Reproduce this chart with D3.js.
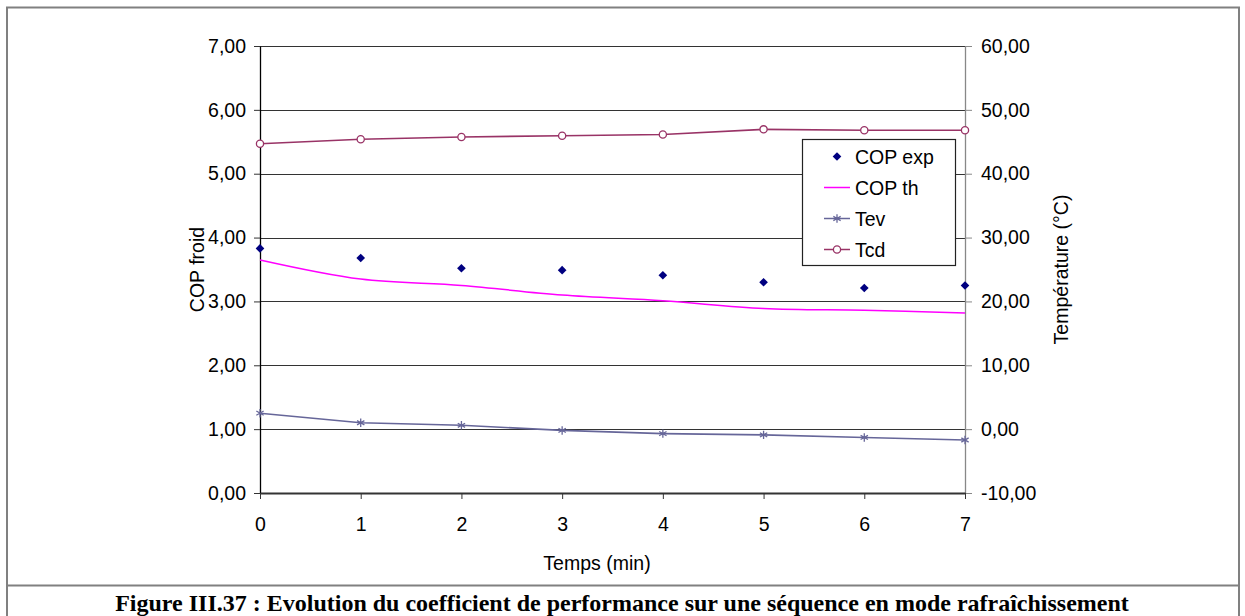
<!DOCTYPE html>
<html>
<head>
<meta charset="utf-8">
<script src="https://cdn.jsdelivr.net/npm/d3@7"></script>
<style>
  html, body { margin: 0; padding: 0; background: #fff; }
  svg { display: block; }
  text { font-family: "Liberation Sans", Arial, sans-serif; }
  text.caption { font-family: "Liberation Serif", "Times New Roman", serif; font-weight: bold; }
</style>
</head>
<body>
<svg id="chart" width="1245" height="616"></svg>
<script>
// ---- Data ----
const times = [0, 1, 2, 3, 4, 5, 6, 7];
const copExp = [3.83, 3.68, 3.52, 3.49, 3.41, 3.30, 3.21, 3.25];
const copTh  = [3.65, 3.35, 3.25, 3.10, 3.01, 2.89, 2.86, 2.82];
const tev    = [2.5, 1.0, 0.6, -0.2, -0.7, -0.9, -1.3, -1.7];
const tcd    = [44.7, 45.4, 45.75, 45.95, 46.15, 46.95, 46.8, 46.8];
const leftTicks  = [0, 1, 2, 3, 4, 5, 6, 7];
const rightTicks = [-10, 0, 10, 20, 30, 40, 50, 60];
const xTicks = [0, 1, 2, 3, 4, 5, 6, 7];
const seriesNames = ["COP exp", "COP th", "Tev", "Tcd"];
const xTitle = "Temps (min)";
const yLeftTitle = "COP froid";
const yRightTitle = "Température (°C)";
const caption = "Figure III.37 : Evolution du coefficient de performance sur une séquence en mode rafraîchissement";

// ---- Layout ----
const svg = d3.select("#chart");
const FS = 19.5;
const x = d3.scaleLinear().domain([0, 7]).range([260, 965]);
const yL = d3.scaleLinear().domain([0, 7]).range([493, 46]);
const yR = d3.scaleLinear().domain([-10, 60]).range([493, 46]);
const fmt = d => d.toFixed(2).replace(".", ",");

const colors = { exp: "#000080", th: "#FF00FF", tev: "#666699", tcd: "#993366" };

// outer frame
svg.append("rect").attr("x", 7).attr("y", 7.5).attr("width", 1232).attr("height", 620)
  .attr("fill", "none").attr("stroke", "#808080").attr("stroke-width", 2);
svg.append("line").attr("x1", 7).attr("x2", 1239).attr("y1", 585.5).attr("y2", 585.5)
  .attr("stroke", "#808080").attr("stroke-width", 2);

// gridlines
svg.append("g").selectAll("line").data(leftTicks.filter(d => d > 0)).join("line")
  .attr("x1", x(0)).attr("x2", x(7))
  .attr("y1", d => Math.round(yL(d)) + 0.5).attr("y2", d => Math.round(yL(d)) + 0.5)
  .attr("stroke", "#333").attr("stroke-width", 1.2);

// left axis
const gL = svg.append("g").attr("transform", `translate(${x(0)},0)`)
  .call(d3.axisLeft(yL).tickValues(leftTicks).tickFormat(fmt).tickSize(6).tickSizeOuter(0).tickPadding(8));
gL.select(".domain").attr("stroke", "#000").attr("stroke-width", 1.3);
gL.selectAll(".tick line").attr("stroke", "#333");
gL.selectAll("text").attr("font-size", FS).attr("fill", "#000");

// right axis
const gR = svg.append("g").attr("transform", `translate(${x(7)},0)`)
  .call(d3.axisRight(yR).tickValues(rightTicks).tickFormat(fmt).tickSize(7).tickSizeOuter(0).tickPadding(9));
gR.select(".domain").attr("stroke", "#888").attr("stroke-width", 1.3);
gR.selectAll(".tick line").attr("stroke", "#888");
gR.selectAll("text").attr("font-size", FS).attr("fill", "#000");

// bottom axis
const gB = svg.append("g").attr("transform", `translate(0,${yL(0)})`)
  .call(d3.axisBottom(x).tickValues(xTicks).tickFormat(d3.format("d")).tickSize(6).tickSizeOuter(0).tickPadding(18));
gB.select(".domain").attr("stroke", "#333").attr("stroke-width", 2);
gB.selectAll(".tick line").attr("stroke", "#333");
gB.selectAll("text").attr("font-size", FS).attr("fill", "#000");

// axis titles
svg.append("text").attr("x", 597).attr("y", 570).attr("text-anchor", "middle")
  .attr("font-size", FS).text(xTitle);
svg.append("text").attr("transform", `translate(204,${(yL(0) + yL(7)) / 2}) rotate(-90)`)
  .attr("text-anchor", "middle").attr("font-size", FS).text(yLeftTitle);
svg.append("text").attr("transform", `translate(1068,${(yL(0) + yL(7)) / 2}) rotate(-90)`)
  .attr("text-anchor", "middle").attr("font-size", FS).text(yRightTitle);

// ---- Series ----
// COP th (smoothed line)
svg.append("path").datum(times.map((t, i) => [t, copTh[i]]))
  .attr("fill", "none").attr("stroke", colors.th).attr("stroke-width", 1.5)
  .attr("d", d3.line().x(d => x(d[0])).y(d => yL(d[1])).curve(d3.curveCatmullRom.alpha(0)));

// Tev line + asterisk markers
svg.append("path").datum(times.map((t, i) => [t, tev[i]]))
  .attr("fill", "none").attr("stroke", colors.tev).attr("stroke-width", 1.6)
  .attr("d", d3.line().x(d => x(d[0])).y(d => yR(d[1])));
const star = d3.symbol().type(d3.symbolAsterisk).size(50);
svg.append("g").selectAll("path").data(times.map((t, i) => [t, tev[i]])).join("path")
  .attr("transform", d => `translate(${x(d[0])},${yR(d[1])})`)
  .attr("d", star()).attr("fill", "none").attr("stroke", colors.tev).attr("stroke-width", 1.3);

// Tcd line + open circles
svg.append("path").datum(times.map((t, i) => [t, tcd[i]]))
  .attr("fill", "none").attr("stroke", colors.tcd).attr("stroke-width", 1.6)
  .attr("d", d3.line().x(d => x(d[0])).y(d => yR(d[1])));
svg.append("g").selectAll("circle").data(times.map((t, i) => [t, tcd[i]])).join("circle")
  .attr("cx", d => x(d[0])).attr("cy", d => yR(d[1])).attr("r", 3.6)
  .attr("fill", "#fff").attr("stroke", colors.tcd).attr("stroke-width", 1.3);

// COP exp diamonds
const diamond = d3.symbol().type(d3.symbolDiamond2).size(48);
svg.append("g").selectAll("path").data(times.map((t, i) => [t, copExp[i]])).join("path")
  .attr("transform", d => `translate(${x(d[0])},${yL(d[1])})`)
  .attr("d", diamond()).attr("fill", colors.exp);

// ---- Legend ----
const lg = svg.append("g");
lg.append("rect").attr("x", 802.5).attr("y", 139.5).attr("width", 153).attr("height", 126)
  .attr("fill", "#fff").attr("stroke", "#222").attr("stroke-width", 1.2);
const rowY = i => 156.5 + i * 31;
seriesNames.forEach((name, i) => {
  const cy = rowY(i);
  if (i === 0) {
    lg.append("path").attr("transform", `translate(837,${cy})`).attr("d", diamond()).attr("fill", colors.exp);
  } else {
    const c = i === 1 ? colors.th : i === 2 ? colors.tev : colors.tcd;
    lg.append("line").attr("x1", 824).attr("x2", 850).attr("y1", cy).attr("y2", cy)
      .attr("stroke", c).attr("stroke-width", 1.5);
    if (i === 2) {
      lg.append("path").attr("transform", `translate(837,${cy})`).attr("d", star())
        .attr("fill", "none").attr("stroke", c).attr("stroke-width", 1.3);
    }
    if (i === 3) {
      lg.append("circle").attr("cx", 837).attr("cy", cy).attr("r", 3.6)
        .attr("fill", "#fff").attr("stroke", c).attr("stroke-width", 1.3);
    }
  }
  lg.append("text").attr("x", 855).attr("y", cy).attr("dy", "0.36em")
    .attr("font-size", FS).text(name);
});

// ---- Caption ----
svg.append("text").attr("class", "caption").attr("x", 622).attr("y", 611).attr("text-anchor", "middle")
  .attr("font-size", 24).text(caption);
</script>
</body>
</html>
